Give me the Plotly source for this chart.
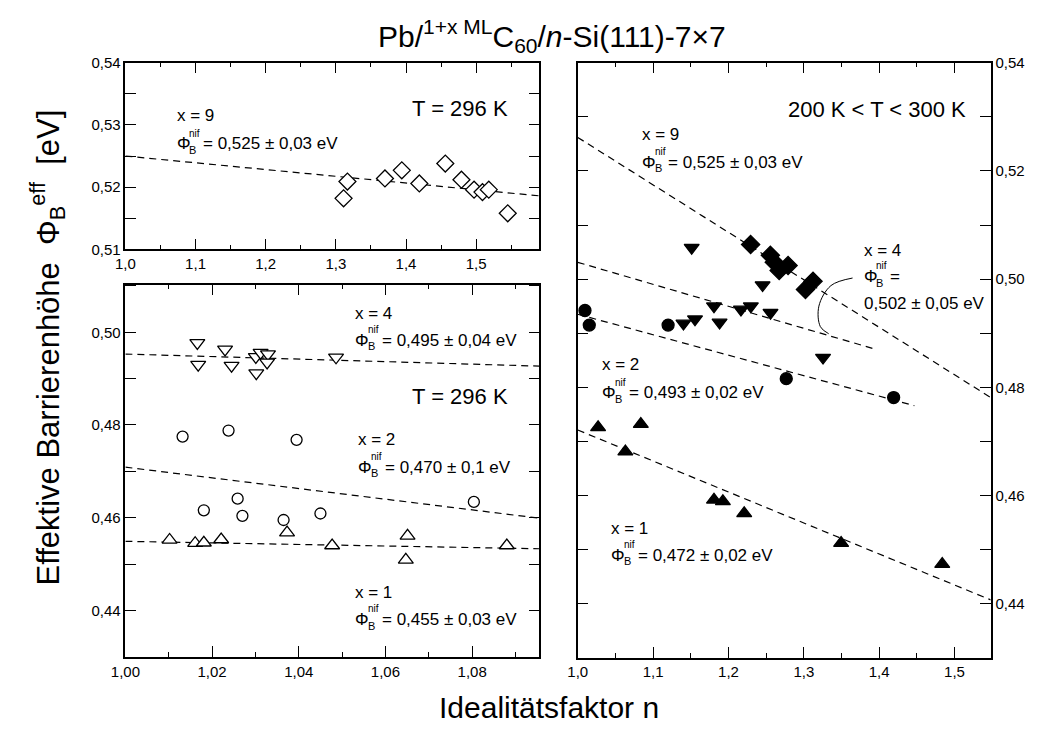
import plotly.graph_objects as go

# ---------------- data ----------------
# Top-left panel (x = 9, T = 296 K)
tl_n = [1.311, 1.3165, 1.370, 1.394, 1.419, 1.456, 1.479, 1.497, 1.509, 1.518, 1.545]
tl_phi = [0.5182, 0.5209, 0.5214, 0.5227, 0.5206, 0.5238, 0.5212, 0.5196, 0.5192, 0.5196, 0.5158]
tl_fit_n = [1.0, 1.59]
tl_fit_phi = [0.5250, 0.5186]

# Bottom-left panel (T = 296 K)
bl4_n = [1.0166, 1.0168, 1.0230, 1.0245, 1.0301, 1.0302, 1.0312, 1.0329, 1.0327, 1.0486]
bl4_phi = [0.4977, 0.4930, 0.4963, 0.4928, 0.4947, 0.4912, 0.4956, 0.4953, 0.4935, 0.4946]
bl4_fit_n = [1.0, 1.0955]
bl4_fit_phi = [0.4953, 0.4927]

bl2_n = [1.0132, 1.0238, 1.0395, 1.0181, 1.0259, 1.0270, 1.0365, 1.0450, 1.0804]
bl2_phi = [0.4775, 0.4788, 0.4768, 0.4616, 0.4641, 0.4604, 0.4595, 0.4609, 0.4634]
bl2_fit_n = [1.0, 1.0955]
bl2_fit_phi = [0.4709, 0.4599]

bl1_n = [1.0102, 1.0161, 1.0181, 1.0221, 1.0373, 1.0477, 1.0651, 1.0647, 1.0880]
bl1_phi = [0.4552, 0.4545, 0.4546, 0.4553, 0.4568, 0.4540, 0.4561, 0.4509, 0.4540]
bl1_fit_n = [1.0, 1.0955]
bl1_fit_phi = [0.4549, 0.4533]

# Right panel (200 K < T < 300 K)
r9_n = [1.2294, 1.2556, 1.2608, 1.2673, 1.2791, 1.3122, 1.3022]
r9_phi = [0.5064, 0.5044, 0.5031, 0.5016, 0.5025, 0.4996, 0.4981]
r9_fit_n = [1.0, 1.548]
r9_fit_phi = [0.5262, 0.4781]

r4_n = [1.1512, 1.2453, 1.1808, 1.1882, 1.1556, 1.1403, 1.2166, 1.2297, 1.2558, 1.3255]
r4_phi = [0.5058, 0.4989, 0.4950, 0.4920, 0.4926, 0.4918, 0.4944, 0.4950, 0.4938, 0.4855]
r4_fit_n = [1.0, 1.391]
r4_fit_phi = [0.5031, 0.4872]

r2_n = [1.0096, 1.0153, 1.1199, 1.2767, 1.4192]
r2_phi = [0.4942, 0.4915, 0.4915, 0.4816, 0.4781]
r2_fit_n = [1.0, 1.4467]
r2_fit_phi = [0.4935, 0.4766]

r1_n = [1.0270, 1.0837, 1.0632, 1.1808, 1.1926, 1.2209, 1.3495, 1.4837]
r1_phi = [0.4726, 0.4732, 0.4681, 0.4592, 0.4589, 0.4567, 0.4512, 0.4473]
r1_fit_n = [1.0, 1.548]
r1_fit_phi = [0.4721, 0.4407]

# connector for the x = 4 label in the right panel
conn_n = [1.3647, 1.336, 1.320, 1.322, 1.333]
conn_phi = [0.5002, 0.4988, 0.4950, 0.4912, 0.4899]

W, H = 1038, 740
FONT = "Liberation Sans, Arial, sans-serif"

fig = go.Figure()


def marker_trace(x, y, symbol, size, xa, ya, filled=False):
    fig.add_trace(go.Scatter(
        x=x, y=y, mode="markers", xaxis=xa, yaxis=ya, showlegend=False,
        marker=dict(symbol=symbol, size=size,
                    color="black" if filled else "white",
                    line=dict(color="black", width=1.3))))


def fit_trace(x, y, xa, ya):
    fig.add_trace(go.Scatter(
        x=x, y=y, mode="lines", xaxis=xa, yaxis=ya, showlegend=False,
        line=dict(color="black", width=1.2, dash="7px,5px")))


# top-left
fit_trace(tl_fit_n, tl_fit_phi, "x", "y")
marker_trace(tl_n, tl_phi, "diamond", 13, "x", "y")
# bottom-left
fit_trace(bl4_fit_n, bl4_fit_phi, "x2", "y2")
fit_trace(bl2_fit_n, bl2_fit_phi, "x2", "y2")
fit_trace(bl1_fit_n, bl1_fit_phi, "x2", "y2")
marker_trace(bl4_n, bl4_phi, "triangle-down", 13, "x2", "y2")
marker_trace(bl2_n, bl2_phi, "circle", 11, "x2", "y2")
marker_trace(bl1_n, bl1_phi, "triangle-up", 13, "x2", "y2")
# right
fit_trace(r9_fit_n, r9_fit_phi, "x3", "y3")
fit_trace(r4_fit_n, r4_fit_phi, "x3", "y3")
fit_trace(r2_fit_n, r2_fit_phi, "x3", "y3")
fit_trace(r1_fit_n, r1_fit_phi, "x3", "y3")
marker_trace(r9_n, r9_phi, "diamond", 14, "x3", "y3", True)
marker_trace(r4_n, r4_phi, "triangle-down", 13, "x3", "y3", True)
marker_trace(r2_n, r2_phi, "circle", 12, "x3", "y3", True)
marker_trace(r1_n, r1_phi, "triangle-up", 13, "x3", "y3", True)
fig.add_trace(go.Scatter(x=conn_n, y=conn_phi, mode="lines", xaxis="x3", yaxis="y3",
                         showlegend=False, line=dict(color="black", width=1, shape="spline")))


def ax(domain, rng, dtick, mdtick, fmt, xlen, mlen, anchor, side=None, tick0=None):
    d = dict(domain=domain, range=rng, dtick=dtick,
             tickformat=fmt, showline=True, linecolor="black", linewidth=1.5,
             mirror="allticks", ticks="inside", ticklen=xlen, tickwidth=1.3,
             tickcolor="black", showgrid=False, zeroline=False, anchor=anchor,
             tickfont=dict(family=FONT, size=15, color="black"),
             minor=dict(dtick=mdtick, ticks="inside", ticklen=mlen, tickwidth=1.3,
                        tickcolor="black", showgrid=False))
    if side:
        d["side"] = side
    if tick0 is not None:
        d["tick0"] = tick0
    return d


xl = [112 / W, 532 / W]
xr = [571 / W, 990 / W]
y_tl = [1 - 246 / H, 1 - 55 / H]
y_bl = [1 - 663 / H, 1 - 282 / H]
y_r = [1 - 664 / H, 1 - 55 / H]

fig.update_layout(
    xaxis=ax(xl, [1.0, 1.59], 0.1, 0.05, ".1f", 11, 5, "y", tick0=1.0),
    yaxis=ax(y_tl, [0.51, 0.54], 0.01, 0.005, ".2f", 11, 11, "x"),
    xaxis2=ax(xl, [1.0, 1.0955], 0.02, 0.01, ".2f", 11, 5, "y2", tick0=1.0),
    yaxis2=ax(y_bl, [0.43, 0.5103], 0.02, 0.01, ".2f", 11, 11, "x2", tick0=0.44),
    xaxis3=ax(xr, [1.0, 1.548], 0.1, 0.05, ".1f", 11, 5, "y3", tick0=1.0),
    yaxis3=ax(y_r, [0.43, 0.54], 0.02, 0.01, ".2f", 11, 11, "x3", side="right", tick0=0.44),
)

annots = []


def txt(px, py, text, size=17, anchor="left", angle=0):
    annots.append(dict(x=px / W, y=1 - py / H, xref="paper", yref="paper", text=text,
                       showarrow=False, xanchor=anchor, yanchor="middle", textangle=angle,
                       font=dict(family=FONT, size=size, color="black")))


def phi(px, py, rest):
    txt(px, py, "Φ", 17)
    txt(px + 13, py - 11, "nif", 10)
    txt(px + 13, py + 6, "B", 11)
    txt(px + 27, py, rest, 17)


# top-left
txt(162, 109, "x = 9")
phi(162, 138, "= 0,525 ± 0,03 eV")
txt(452, 102, "T = 296 K", 22, "center")
# bottom-left
txt(343, 312, "x = 4")
phi(343, 339, "= 0,495 ± 0,04 eV")
txt(452, 397, "T = 296 K", 22, "center")
txt(346, 441, "x = 2")
phi(346, 469, "= 0,470 ± 0,1 eV")
txt(343, 597, "x = 1")
phi(343, 625, "= 0,455 ± 0,03 eV")
# right
txt(875, 103, "200 K < T < 300 K", 22, "center")
txt(634, 128, "x = 9")
phi(634, 157, "= 0,525 ± 0,03 eV")
txt(859, 247, "x = 4")
phi(859, 274, "=")
txt(859, 301, "0,502 ± 0,05 eV")
txt(594, 364, "x = 2")
phi(594, 393, "= 0,493 ± 0,02 eV")
txt(603, 532, "x = 1")
phi(603, 559, "= 0,472 ± 0,02 eV")

# titles
txt(545, 28, "Pb/<sup>1+x ML</sup>C<sub>60</sub>/<i>n</i>-Si(111)-7×7", 30, "center")
txt(542, 715, "Idealitätsfaktor n", 30, "center")
txt(33, 347, "Effektive Barrierenhöhe  Φ<sub>B</sub><sup>eff</sup>  [eV]", 31, "center", -90)

fig.update_layout(
    annotations=annots,
    width=W, height=H, margin=dict(l=0, r=0, t=0, b=0),
    paper_bgcolor="white", plot_bgcolor="white",
    separators=",.", showlegend=False,
    font=dict(family=FONT, color="black"),
)

fig.write_html("out.html", config={"displayModeBar": False},
               post_script="document.body.style.margin='0px';")
